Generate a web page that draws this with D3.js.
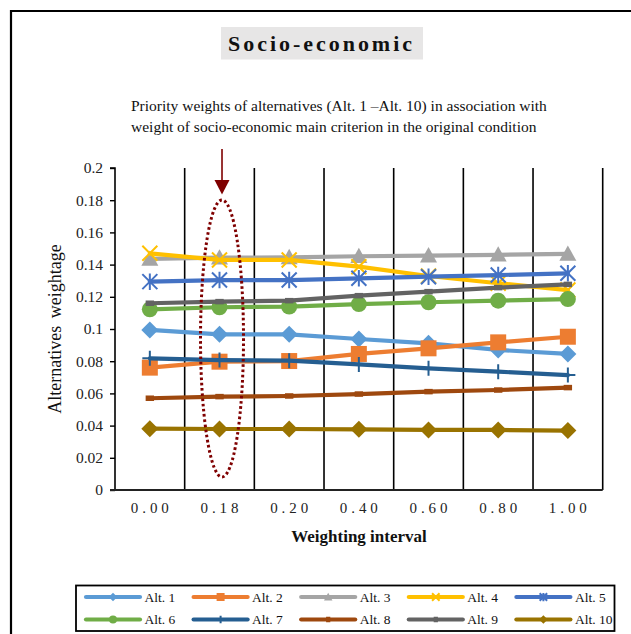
<!DOCTYPE html>
<html><head><meta charset="utf-8">
<script src="https://cdn.jsdelivr.net/npm/d3@7/dist/d3.min.js"></script>
<style>body{margin:0;background:#fff}svg{display:block}</style>
</head><body>
<svg id="c" width="631" height="634"></svg>
<script>
// ---- data ----
const categories = ["0.00","0.18","0.20","0.40","0.60","0.80","1.00"];
const seriesNames = ["Alt. 1","Alt. 2","Alt. 3","Alt. 4","Alt. 5","Alt. 6","Alt. 7","Alt. 8","Alt. 9","Alt. 10"];
const alt1  = [0.0994,0.0967,0.0967,0.0938,0.0911,0.0870,0.0845];
const alt2  = [0.0760,0.0797,0.0801,0.0845,0.0880,0.0917,0.0952];
const alt3  = [0.1435,0.1443,0.1445,0.1452,0.1456,0.1461,0.1466];
const alt4  = [0.1470,0.1429,0.1429,0.1387,0.1329,0.1284,0.1242];
const alt5  = [0.1294,0.1304,0.1304,0.1315,0.1325,0.1335,0.1346];
const alt6  = [0.1122,0.1135,0.1139,0.1155,0.1166,0.1176,0.1186];
const alt7  = [0.0818,0.0807,0.0803,0.0780,0.0756,0.0735,0.0714];
const alt8  = [0.0570,0.0580,0.0584,0.0596,0.0611,0.0621,0.0636];
const alt9  = [0.1160,0.1170,0.1176,0.1207,0.1232,0.1257,0.1277];
const alt10 = [0.0381,0.0379,0.0379,0.0377,0.0373,0.0373,0.0369];
const seriesValues = [alt1,alt2,alt3,alt4,alt5,alt6,alt7,alt8,alt9,alt10];
const yTicks = [0,0.02,0.04,0.06,0.08,0.1,0.12,0.14,0.16,0.18,0.2];
const yTickLabels = ["0","0.02","0.04","0.06","0.08","0.1","0.12","0.14","0.16","0.18","0.2"];
const highlightCategory = "0.18";
const titleText = "Socio-economic";
const subtitleLines = ["Priority weights of alternatives (Alt. 1 \u2013Alt. 10) in association with",
                       "weight of socio-economic main criterion in the original condition"];
const xTitle = "Weighting interval";
const yTitle = "Alternatives weightage";

// ---- styles ----
const colors = ["#5b9bd5","#ed7d31","#a5a5a5","#ffc000","#4472c4","#70ad47","#255e91","#9e480e","#636363","#997300"];
const markers = ["diamond","square","triangle","x","star","circle","plus","dash","dash","diamond"];
const serif = "'Liberation Serif','Times New Roman',serif";

const svg = d3.select("#c");
const L = 115, R = 602.7, T = 168, B = 490;

const x = d3.scaleBand().domain(categories).range([L, R]).padding(0);
const y = d3.scaleLinear().domain([0, 0.2]).range([B, T]);

// outer frame
svg.append("path").attr("d","M11,640 L11,11 L640,11").attr("fill","none").attr("stroke","#000").attr("stroke-width",2.2);

// title
svg.append("rect").attr("x",221).attr("y",27).attr("width",202).attr("height",32.5).attr("fill","#e7e6e6");
svg.append("text").attr("x",228).attr("y",50.7).attr("font-family",serif).attr("font-weight","bold")
  .attr("font-size",22).attr("textLength",184).attr("lengthAdjust","spacing").attr("fill","#111").text(titleText);

// subtitle
svg.selectAll("text.sub").data(subtitleLines).join("text").attr("class","sub")
  .attr("x",131).attr("y",(d,i)=>111+i*20.5).attr("font-family",serif).attr("font-size",15.5).attr("fill","#111").text(d=>d);

// vertical gridlines at category boundaries
const bounds = categories.map(c => x(c) + x.bandwidth()).slice(0);
svg.append("g").selectAll("line").data(bounds).join("line")
  .attr("x1",d=>d).attr("x2",d=>d).attr("y1",T).attr("y2",B)
  .attr("stroke","#000").attr("stroke-width",1.6);

// y axis
const yAxis = d3.axisLeft(y).tickValues(yTicks).tickFormat((d,i)=>yTickLabels[i]).tickSize(5).tickPadding(7);
const gy = svg.append("g").attr("transform",`translate(${L},0)`).call(yAxis);
gy.select(".domain").attr("stroke","#000").attr("stroke-width",1.6).attr("d",`M-5,${T}H0V${B}`);
gy.selectAll(".tick line").attr("stroke","#000").attr("stroke-width",1.4);
gy.selectAll(".tick text").attr("font-family",serif).attr("font-size",15.5).attr("fill","#222");

// x axis
const xAxis = d3.axisBottom(x).tickSize(0).tickPadding(18);
const gx = svg.append("g").attr("transform",`translate(0,${B})`).call(xAxis);
gx.select(".domain").attr("stroke","#222").attr("stroke-width",2.2).attr("d",`M${L-5},0H${R}`);
gx.selectAll(".tick text").attr("font-family",serif).attr("font-size",15).attr("fill","#222")
  .attr("dy","0.35em").attr("textLength",38).attr("lengthAdjust","spacing");

// axis titles
svg.append("text").attr("x",359).attr("y",542).attr("text-anchor","middle").attr("font-family",serif)
  .attr("font-weight","bold").attr("font-size",17).attr("fill","#111").text(xTitle);
svg.append("text").attr("transform","translate(60.5,329) rotate(-90)").attr("text-anchor","middle")
  .attr("font-family",serif).attr("font-size",18).attr("fill","#111").attr("word-spacing",3).text(yTitle);

// markers
function markerPath(type, s) {
  switch(type){
    case "diamond": return `M0,${-s}L${s},0L0,${s}L${-s},0Z`;
    case "square": return `M${-s},${-s}H${s}V${s}H${-s}Z`;
    case "triangle": return `M0,${-s}L${s},${s*0.8}L${-s},${s*0.8}Z`;
    case "x": return `M${-s},${-s}L${s},${s}M${-s},${s}L${s},${-s}`;
    case "star": return `M${-s},${-s}L${s},${s}M${-s},${s}L${s},${-s}M0,${-s*1.1}V${s*1.1}`;
    case "plus": return `M0,${-s}V${s}M${-s},0H${s}`;
    case "dash": return `M${-s*0.7},0H${s*0.7}`;
    default: return "";
  }
}
function drawMarker(g, type, color, cx, cy, s) {
  if (type === "circle") {
    g.append("circle").attr("cx",cx).attr("cy",cy).attr("r",s).attr("fill",color);
  } else if (["x","star","plus"].includes(type)) {
    g.append("path").attr("d",markerPath(type,s)).attr("transform",`translate(${cx},${cy})`)
      .attr("fill","none").attr("stroke",color).attr("stroke-width",2);
  } else if (type === "dash") {
    g.append("path").attr("d",markerPath(type,s)).attr("transform",`translate(${cx},${cy})`)
      .attr("fill","none").attr("stroke",color).attr("stroke-width",5.5);
  } else {
    g.append("path").attr("d",markerPath(type,s)).attr("transform",`translate(${cx},${cy})`).attr("fill",color);
  }
}
const markerSize = {diamond:8.5, square:8, triangle:8.5, x:7.5, star:7.5, circle:8, plus:7.5, dash:6};

const line = d3.line().x((d,i)=>x(categories[i]) + x.bandwidth()/2).y(d=>y(d));
const plot = svg.append("g");
seriesValues.forEach((vals, si) => {
  const g = plot.append("g");
  g.append("path").datum(vals).attr("d",line).attr("fill","none").attr("stroke",colors[si])
    .attr("stroke-width",4.2).attr("stroke-linejoin","round").attr("stroke-linecap","round");
  vals.forEach((v,i) => drawMarker(g, markers[si], colors[si], x(categories[i]) + x.bandwidth()/2, y(v), markerSize[markers[si]]));
});

// highlight ellipse and arrow
const hx = x(highlightCategory) + x.bandwidth()/2 + 2.5;
svg.append("ellipse").attr("cx",hx).attr("cy",338.5).attr("rx",21.5).attr("ry",138.5)
  .attr("fill","none").attr("stroke","#7f0000").attr("stroke-width",3).attr("stroke-dasharray","2.6 2.6");
svg.append("line").attr("x1",hx).attr("x2",hx).attr("y1",149).attr("y2",182).attr("stroke","#7f0000").attr("stroke-width",1.6);
svg.append("path").attr("d",`M${hx-7.5},180L${hx+7.5},180L${hx},194.5Z`).attr("fill","#7f0000");

// legend
svg.append("rect").attr("x",76).attr("y",585.5).attr("width",538.5).attr("height",45.5)
  .attr("fill","#fff").attr("stroke","#000").attr("stroke-width",1.8);
seriesNames.forEach((name, si) => {
  const col = si % 5, row = Math.floor(si / 5);
  const lx = 86 + col * 107.6, ly = 597 + row * 22.5;
  const g = svg.append("g");
  g.append("line").attr("x1",lx).attr("x2",lx+54).attr("y1",ly).attr("y2",ly)
    .attr("stroke",colors[si]).attr("stroke-width",4.2).attr("stroke-linecap","round");
  drawMarker(g, markers[si], colors[si], lx+27, ly, markerSize[markers[si]]*0.5);
  g.append("text").attr("x",lx+58.5).attr("y",ly+4.6).attr("font-family",serif).attr("font-size",13.5)
    .attr("fill","#111").text(name);
});
</script>
</body></html>
